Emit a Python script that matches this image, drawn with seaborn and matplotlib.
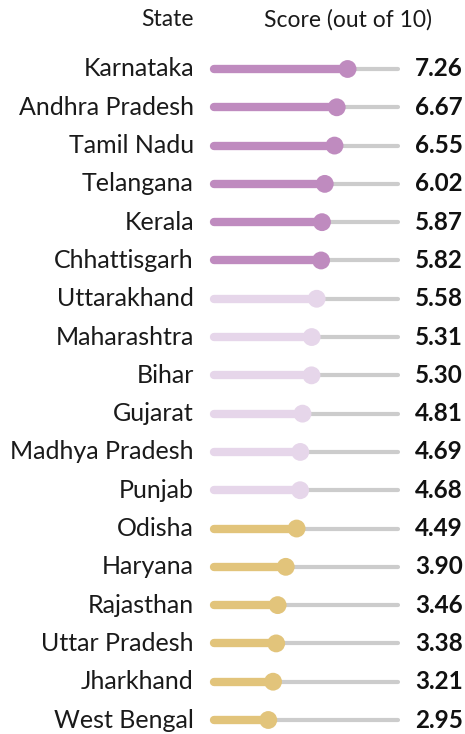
import matplotlib
matplotlib.use("Agg")
import matplotlib.pyplot as plt
import seaborn as sns
import pandas as pd

states = ["Karnataka", "Andhra Pradesh", "Tamil Nadu", "Telangana", "Kerala",
          "Chhattisgarh", "Uttarakhand", "Maharashtra", "Bihar", "Gujarat",
          "Madhya Pradesh", "Punjab", "Odisha", "Haryana", "Rajasthan",
          "Uttar Pradesh", "Jharkhand", "West Bengal"]
scores = [7.26, 6.67, 6.55, 6.02, 5.87, 5.82, 5.58, 5.31, 5.30, 4.81,
          4.69, 4.68, 4.49, 3.90, 3.46, 3.38, 3.21, 2.95]
tiers = ["high"] * 6 + ["mid"] * 6 + ["low"] * 6
tier_colors = {"high": "#bf8bbf", "mid": "#e6d6ea", "low": "#e2c47b"}
max_score = 10

sns.set_theme(style="white")
plt.rcParams["font.family"] = ["Lato", "DejaVu Sans"]

df = pd.DataFrame({"state": states, "score": scores, "tier": tiers,
                   "row": range(len(states))})

fig = plt.figure(figsize=(4.65, 7.34), dpi=100)
ax = fig.add_axes([0, 0, 1, 1])
px = 18.4
sp = 38.3
xl = (-214 / px, (465 - 214) / px)
yl = (17 + (734 - 720) / sp, -69 / sp)

for _, r in df.iterrows():
    ax.plot([0, max_score], [r.row, r.row], color="#cccccc", lw=3.0,
            solid_capstyle="round", zorder=1)
    ax.plot([0, r.score], [r.row, r.row], color=tier_colors[r.tier], lw=6.0,
            solid_capstyle="round", zorder=2)
    ax.text(-1.09, r.row, r.state, ha="right", va="center", fontsize=18,
            color="#1a1a1a")
    ax.text(10.92, r.row, f"{r.score:.2f}", ha="left", va="center",
            fontsize=17.5, fontweight="bold", color="#111111")

sns.scatterplot(data=df, x="score", y="row", hue="tier", palette=tier_colors,
                s=165, linewidth=0, legend=False, ax=ax, zorder=3)
ax.set_xlim(*xl)
ax.set_ylim(*yl)
ax.axis("off")

ax.text(-1.09, -1.28, "State", ha="right", va="center", fontsize=16.5,
        color="#1a1a1a")
ax.text((348 - 214) / px, -1.28, "Score (out of 10)", ha="center",
        va="center", fontsize=16.5, color="#1a1a1a")

fig.savefig("out.png", dpi=100)
